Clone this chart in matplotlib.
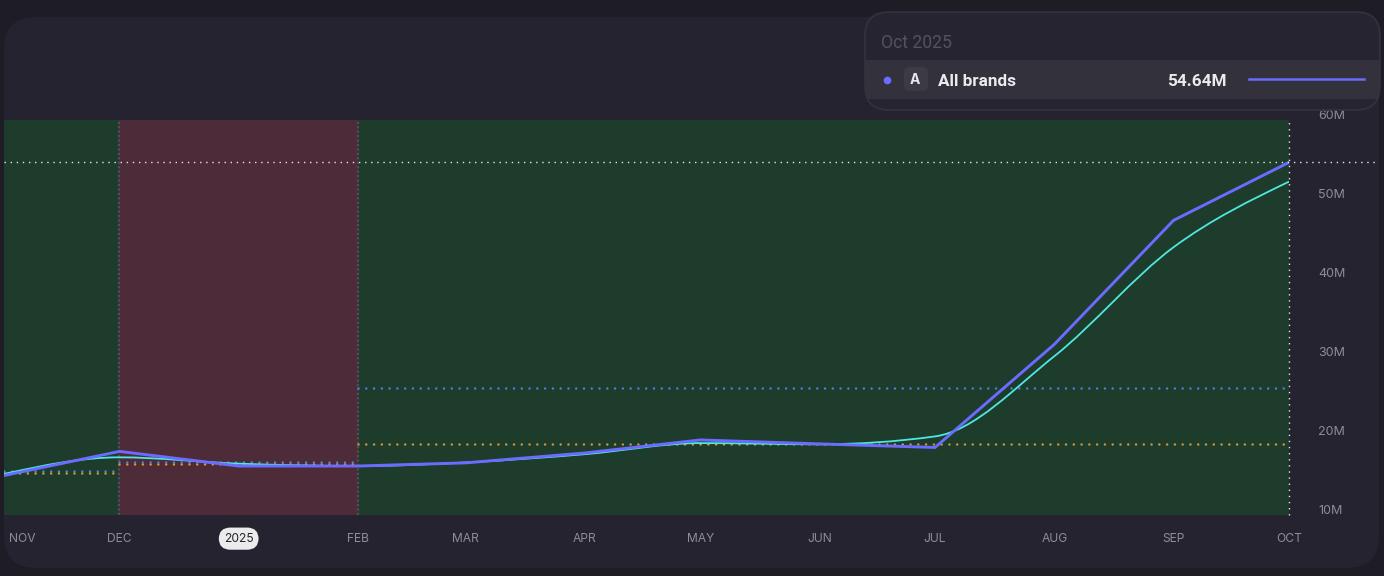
#!/usr/bin/env python3
# -*- coding: utf-8 -*-
"""All brands, monthly, with period shading and benchmark lines"""

from datetime import datetime

import numpy as np
import matplotlib
matplotlib.use('Agg')
import matplotlib.dates as mdates
import matplotlib.pyplot as plt
from matplotlib.patches import FancyBboxPatch, PathPatch, Rectangle
from matplotlib.path import Path
from matplotlib.transforms import ScaledTranslation

plt.rcParams['font.family'] = ['Inter', 'DejaVu Sans']

#%% Data

months = ['2024-11-01', '2024-12-01', '2025-01-01', '2025-02-01', '2025-03-01', '2025-04-01',
          '2025-05-01', '2025-06-01', '2025-07-01', '2025-08-01', '2025-09-01', '2025-10-01']
tick_labels = ['NOV', 'DEC', '2025', 'FEB', 'MAR', 'APR', 'MAY', 'JUN', 'JUL', 'AUG', 'SEP', 'OCT']

# millions
all_brands = [15.0, 18.05, 16.2, 16.2, 16.6, 17.85, 19.5, 19.0, 18.55, 31.6, 47.3, 54.64]
trend = [15.2, 17.3, 16.5, 16.2, 16.65, 17.7, 19.1, 18.95, 19.95, 30.1, 43.9, 52.2]

period_edges = ['2024-11-01', '2024-12-01', '2025-02-01', '2025-10-01']
period_colors = ['#1e3c2b', '#4d2b38', '#1e3c2b']
bench_blue = [15.6, 16.65, 26.1]
bench_orange = [15.3, 16.5, 19.05]

y_ticks = [10, 20, 30, 40, 50, 60]
y_labels = ['10M', '20M', '30M', '40M', '50M', '60M']

tooltip_month = 'Oct 2025'
tooltip_name = 'All brands'
tooltip_value = '54.64M'


def to_num(dates):
    return mdates.date2num([datetime.strptime(d, '%Y-%m-%d') for d in dates])


def monotone_path(x, y):
    # monotone cubic through the monthly values, as bezier segments
    x = np.asarray(x, dtype=float)
    y = np.asarray(y, dtype=float)
    h = np.diff(x)
    s = np.diff(y) / h
    m = np.zeros(len(x))
    for i in range(1, len(x) - 1):
        if s[i - 1] * s[i] > 0:
            p = (s[i - 1] * h[i] + s[i] * h[i - 1]) / (h[i - 1] + h[i])
            m[i] = np.sign(s[i]) * min(abs(s[i - 1]), abs(s[i]), abs(p) / 2) * 2
    m[0] = (3 * s[0] - m[1]) / 2
    m[-1] = (3 * s[-1] - m[-2]) / 2
    verts = [(x[0], y[0])]
    codes = [Path.MOVETO]
    for i in range(len(h)):
        verts += [(x[i] + h[i] / 3, y[i] + m[i] * h[i] / 3),
                  (x[i + 1] - h[i] / 3, y[i + 1] - m[i + 1] * h[i] / 3),
                  (x[i + 1], y[i + 1])]
        codes += [Path.CURVE4] * 3
    return Path(verts, codes)


#%% Figure and background card (pixel coordinates)

W, H = 1384, 576
fig = plt.figure(figsize=(W / 100, H / 100), dpi=100, facecolor='#1e1c24')

bg = fig.add_axes([0, 0, 1, 1], zorder=0)
bg.set_xlim(0, W)
bg.set_ylim(H, 0)
bg.axis('off')
bg.add_patch(FancyBboxPatch((4 + 32, 17 + 32), 1375 - 64, 551 - 64,
                            boxstyle='round,pad=32,rounding_size=32',
                            fc='#252330', ec='none'))

#%% Main chart

x_months = to_num(months)
edges = to_num(period_edges)
left, right, top, bottom = 4, 1289, 120, 515

ax = fig.add_axes([left / W, 1 - bottom / H, (right - left) / W, (bottom - top) / H], zorder=1)
ax.patch.set_alpha(0)
ax.set_xlim(edges[0], edges[-1])
ax.set_ylim(10, 60)
for s in ax.spines.values():
    s.set_visible(False)

for i, c in enumerate(period_colors):
    ax.axvspan(edges[i], edges[i + 1], color=c, lw=0, zorder=1)

for e in edges[1:-1]:
    ax.axvline(e, color='#514e5a', lw=1.6, ls=(0, (1, 1)), zorder=2)

dots = (0, (0.01, 3.1))
for i in range(3):
    ax.plot(edges[i:i + 2], [bench_blue[i]] * 2, color='#4285dc', lw=1.8, ls=dots,
            dash_capstyle='round', zorder=3)
    ax.plot(edges[i:i + 2], [bench_orange[i]] * 2, color='#dc962f', lw=1.8, ls=dots,
            dash_capstyle='round', zorder=3)

ax.add_patch(PathPatch(monotone_path(x_months, trend), fc='none', ec='#4fe8e0', lw=1.3, zorder=4))
ax.plot(x_months, all_brands, color='#6b6bff', lw=2.1, zorder=5, solid_joinstyle='miter')

# crosshair on the last point
xhair = (0, (1, 3.4))
ax.axvline(x_months[-1], color='#e8e8ea', lw=1, ls=xhair, zorder=6, clip_on=False)
ax.axhline(all_brands[-1], xmax=(1378 - left) / (right - left), color='#e8e8ea', lw=1, ls=xhair,
           zorder=6, clip_on=False)

ax.yaxis.tick_right()
ax.set_yticks(y_ticks)
ax.set_yticklabels(y_labels, va='bottom')
ax.tick_params(axis='y', length=0, pad=21, labelsize=9, labelcolor='#8f8c96')
for lab in ax.get_yticklabels():
    lab.set_transform(lab.get_transform() + ScaledTranslation(0, -2 / 100, fig.dpi_scale_trans))
ax.set_xticks(x_months)
ax.set_xticklabels(tick_labels)
ax.tick_params(axis='x', length=0, pad=12.7, labelsize=8.7, labelcolor='#8f8c96')

labels = ax.get_xticklabels()
labels[0].set_ha('left')
labels[0].set_transform(labels[0].get_transform() + ScaledTranslation(5 / 100, 0, fig.dpi_scale_trans))
labels[2].set_color('#26242c')
labels[2].set_bbox(dict(boxstyle='round,pad=0.42,rounding_size=0.95', fc='#ebebee', ec='none'))

#%% Tooltip (pixel coordinates)

tip = fig.add_axes([0, 0, 1, 1], zorder=2)
tip.set_xlim(0, W)
tip.set_ylim(H, 0)
tip.axis('off')
tip.patch.set_alpha(0)

card = FancyBboxPatch((865 + 24, 12 + 24), 515 - 48, 98 - 48,
                      boxstyle='round,pad=24,rounding_size=24',
                      fc='#262430', ec='#34323c', lw=1.2)
tip.add_patch(card)
band = Rectangle((865, 60), 515, 39, fc='#33313b', ec='none')
tip.add_patch(band)
band.set_clip_path(card)

tip.text(881, 43, tooltip_month, color='#55525c', fontsize=12.7, va='center', family='Roboto')
tip.plot([887], [79.5], 'o', color='#6b6bff', ms=5.5, mew=0)
tip.add_patch(FancyBboxPatch((904 + 6, 67 + 6), 24 - 12, 24 - 12,
                             boxstyle='round,pad=6,rounding_size=6', fc='#3c3a44', ec='none'))
tip.text(915, 80, 'A', color='#e8e8ea', fontsize=10, fontweight='bold', ha='center', va='center')
tip.text(938, 81, tooltip_name, color='#ebebee', fontsize=12.3, fontweight='bold', va='center', family='Roboto')
tip.text(1227, 81, tooltip_value, color='#ebebee', fontsize=12.3, fontweight='bold', ha='right', va='center',
         family='Roboto')
tip.plot([1249, 1364], [79, 79], color='#6b6bff', lw=1.8)

fig.savefig('out.png', dpi=100, facecolor=fig.get_facecolor())
